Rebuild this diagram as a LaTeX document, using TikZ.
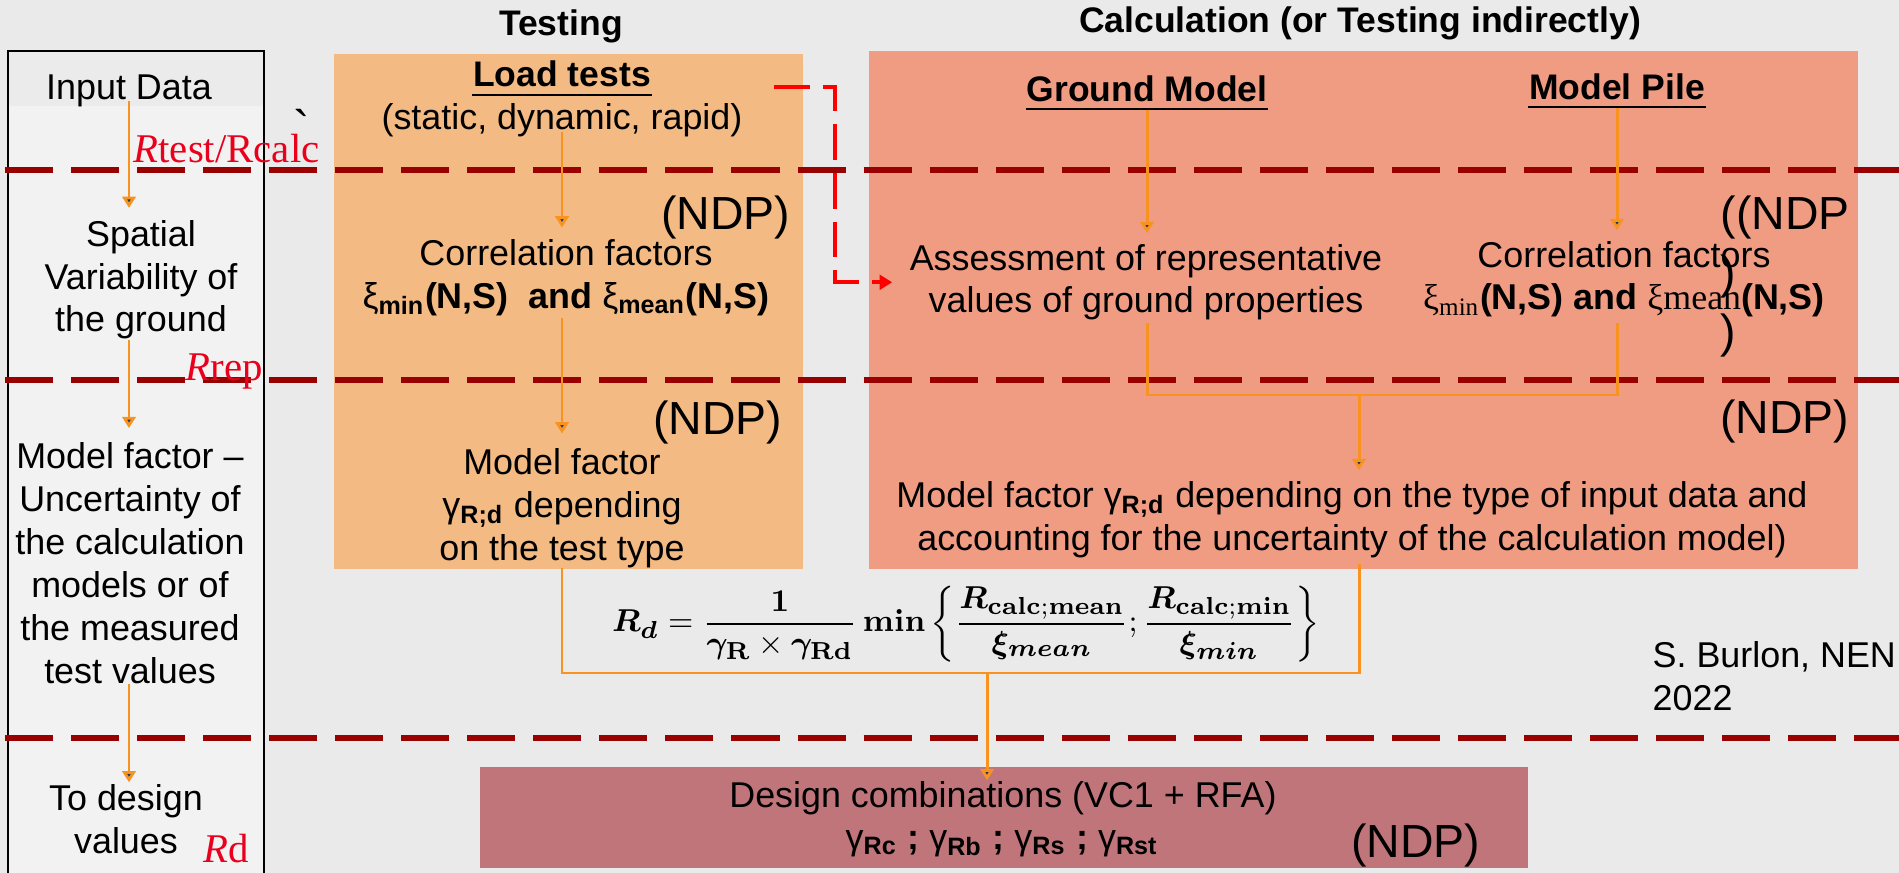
\documentclass[tikz,border=0pt]{standalone}
\usepackage[no-math]{fontspec}
\setmainfont{Liberation Sans}
\newfontfamily\serifx{Liberation Serif}
\usepackage{amsmath,bm}
\usetikzlibrary{arrows.meta,calc,positioning}
\definecolor{bgc}{HTML}{EAEAEA}
\definecolor{leftc}{HTML}{F2F2F2}
\definecolor{hdrc}{HTML}{EBEBEB}
\definecolor{testc}{HTML}{F3BA83}
\definecolor{calcc}{HTML}{F09C83}
\definecolor{designc}{HTML}{C0757A}
\definecolor{sepc}{HTML}{990000}
\definecolor{arrc}{HTML}{F7931E}
\definecolor{tipc}{HTML}{1F3864}
\definecolor{redc}{HTML}{E8001C}

\tikzset{
  txt/.style={inner sep=0pt, font=\fontsize{10.2}{12.2}\selectfont, align=center},
  head/.style={inner sep=0pt, font=\fontsize{10.1}{12}\selectfont\bfseries},
  ndp/.style={inner sep=0pt, font=\fontsize{13.2}{16.8}\selectfont},
  rlab/.style={inner sep=0pt, text=redc, font=\serifx\fontsize{11.6}{13}\selectfont},
  panel/.style={inner sep=0pt, outer sep=0pt, anchor=north west},
  uline/.style={line width=0.85pt},
  sepline/.style={sepc, line width=1.7pt, dash pattern=on 13.66pt off 5.12pt},
  oline/.style={arrc, line width=0.85pt},
  oarrow/.style={oline, -{Triangle[length=3.2pt, width=3.8pt, fill=tipc]}},
  rarrow/.style={red, line width=1.14pt, dash pattern=on 10.2pt off 3.7pt,
    -{Triangle[length=3.6pt, width=4.2pt]}},
}

\begin{document}
\begin{tikzpicture}[x=0.01cm, y=-0.01cm]
\useasboundingbox (0,0) rectangle (1899,873);
\fill[bgc] (0,0) rectangle (1899,873);

% panels
\node[panel, draw=black, line width=0.6pt, fill=leftc, minimum width=2.56cm, minimum height=8.3cm] (lbox) at (8,51) {};
\node[panel, fill=hdrc, minimum width=2.54cm, minimum height=0.54cm] (lhead) at (9,52) {};
\node[panel, fill=testc, minimum width=4.69cm, minimum height=5.15cm] (tbox) at (334,54) {};
\node[panel, fill=calcc, minimum width=9.88cm, minimum height=5.18cm] (cbox) at (869,51) {};
\node[panel, fill=designc, minimum width=10.47cm, minimum height=1.01cm] (dbox) at (480,767) {};

% separators
\foreach \yy in {170,380,738}
  \draw[sepline] (5,\yy) -- (1899,\yy);

% headers
\node[head, anchor=base] (htest) at (561,36) {Testing};
\node[head, anchor=base] (hcalc) at (1360,33) {Calculation (or Testing indirectly)};

% left column (multi-line nodes sit on their last line)
\node[txt, anchor=base] (inp) at (129,100) {Input Data};
\node[txt, anchor=base] (spat) at (141,332) {Spatial\\Variability of\\the ground};
\node[txt, anchor=base] (mfl) at (130,683) {Model factor --\\Uncertainty of\\the calculation\\models or of\\the measured\\test values};
\node[txt, anchor=base] (tdv) at (126,853) {To design\\values};
\node[rlab, anchor=base west] (rtc) at (133,163) {\textit{R}test/Rcalc};
\node[rlab, anchor=base west] (rrep) at (185,380) {\textit{R}rep};
\node[rlab, anchor=base west] (rdl) at (203,862) {\textit{R}d};
\node[inner sep=0pt, font=\fontsize{14}{14}\selectfont, anchor=base] (tick) at (302,146) {\textasciigrave};

% testing
\node[head, anchor=base] (load) at (562,87) {Load tests};
\node[txt, anchor=base] (stat) at (562,130) {(static, dynamic, rapid)};
\node[ndp, anchor=base east] (ndpa) at (791,230) {(NDP)};
\node[txt, anchor=base] (corra) at (566,308) {Correlation factors\\\textbf{{\mdseries ξ}\textsubscript{min}(N,S)~ and {\mdseries ξ}\textsubscript{mean}(N,S)}};
\node[ndp, anchor=base east] (ndpb) at (783,435) {(NDP)};
\node[txt, anchor=base] (mfa) at (562,560) {Model factor\\γ\textsubscript{\bfseries R;d} depending\\on the test type};

% calculation
\node[head, anchor=base] (gmod) at (1147,102) {Ground Model};
\node[head, anchor=base] (mpile) at (1617,100) {Model Pile};
\node[ndp, anchor=base west, align=left] (ndpc) at (1720,348) {((NDP\\)\\)};
\node[txt, anchor=base] (assess) at (1146,313) {Assessment of representative\\values of ground properties};
\node[txt, anchor=base] (corrb) at (1624,310) {Correlation factors\\\textbf{{\serifx\mdseries ξ\textsubscript{min}}(N,S) and {\serifx\mdseries ξmean}(N,S)}};
\node[ndp, anchor=base east] (ndpd) at (1850,433) {(NDP)};
\node[txt, anchor=base] (mfb) at (1352,550) {Model factor γ\textsubscript{\bfseries R;d} depending on the type of input data and\\accounting for the uncertainty of the calculation model)};

% underlines
\draw[uline] ($(load.base west)+(0,8)$) -- ($(load.base east)+(0,8)$);
\draw[uline] ($(gmod.base west)+(0,7)$) -- ($(gmod.base east)+(0,7)$);
\draw[uline] ($(mpile.base west)+(0,7)$) -- ($(mpile.base east)+(0,7)$);

% formula and design values
\node[inner sep=0pt, font=\fontsize{9.3}{12}\selectfont] (form) at (966,624)
  {$\displaystyle \bm{R_d} = \frac{\mathbf{1}}{\bm{\gamma}_{\mathbf{R}}\times\bm{\gamma}_{\mathbf{Rd}}}\,\mathbf{min}\left\{\frac{\bm{R}_{\mathbf{calc;mean}}}{\bm{\xi}_{\bm{mean}}};\frac{\bm{R}_{\mathbf{calc;min}}}{\bm{\xi}_{\bm{min}}}\right\}$};
\node[txt, anchor=base west, align=left] (cred) at (1652,710) {S. Burlon, NEN\\2022};
\node[txt, anchor=base] (dcomb) at (1003,807) {Design combinations (VC1 + RFA)};
\node[txt, anchor=base] (dgam) at (1002,849) {γ\textsubscript{\bfseries Rc} \textbf{;} γ\textsubscript{\bfseries Rb} \textbf{;} γ\textsubscript{\bfseries Rs} \textbf{;} γ\textsubscript{\bfseries Rst}};
\node[ndp, anchor=base east] (ndpe) at (1481,857) {(NDP)};

\coordinate (lt) at (774,87);
\coordinate (rk) at (835,87);
\coordinate (jn) at (1359,395);
\coordinate (brk) at (987,673);

% left arrows
\draw[oarrow, shorten <=-2pt, shorten >=3.3pt] (inp.south) -- (inp.south |- spat.north);
\draw[oarrow, shorten >=3.9pt] (inp.south |- spat.south) -- (inp.south |- mfl.north);
\draw[oarrow, shorten >=0.3pt] (inp.south |- mfl.south) -- (inp.south |- tdv.north);

% testing arrows
\draw[oarrow, shorten <=-1.7pt, shorten >=3.1pt] (stat.south) -- (stat.south |- corra.north);
\draw[oarrow, shorten <=0.5pt, shorten >=4pt] (stat.south |- corra.south) -- (stat.south |- mfa.north);
\draw[oline, shorten >=1.7pt] (mfa.south) |- (brk) -| (jn |- mfb.south);
\draw[oarrow] (brk) -- (brk |- dcomb.north);

% calculation arrows
\draw[oarrow, shorten <=2pt, shorten >=2.9pt] (gmod.south) -- (gmod.south |- assess.north);
\draw[oarrow, shorten <=2pt, shorten >=2.9pt] (mpile.south) -- (mpile.south |- corrb.north);
\draw[oline, shorten <=0.5pt, shorten >=1.4pt] (gmod.south |- assess.south) |- (jn) -| (mpile.south |- corrb.south);
\draw[oarrow, shorten >=2.9pt] (jn) -- (jn |- mfb.north);

% test results used for calculation
\draw[rarrow, shorten >=4.8pt] (lt) -- (rk) |- (assess.west);

\end{tikzpicture}
\end{document}
